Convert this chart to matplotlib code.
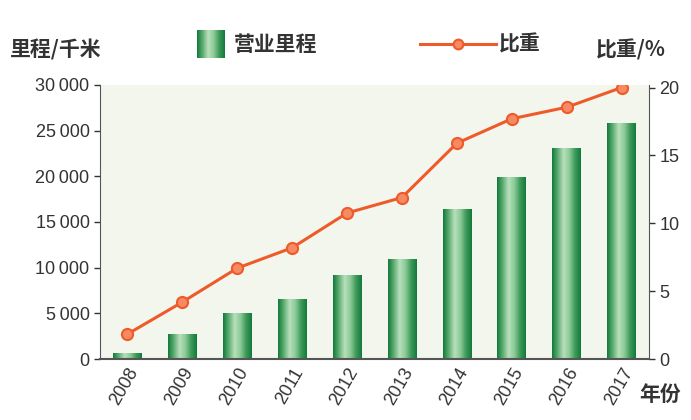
import matplotlib
matplotlib.use("Agg")
import matplotlib.pyplot as plt
import numpy as np
from matplotlib.colors import LinearSegmentedColormap
from matplotlib.lines import Line2D
from matplotlib.ticker import FuncFormatter

plt.rcParams['font.family'] = ['Liberation Sans', 'Noto Sans CJK SC', 'DejaVu Sans']

years = ['2008', '2009', '2010', '2011', '2012', '2013', '2014', '2015', '2016', '2017']
mileage = [690, 2740, 5070, 6530, 9190, 10910, 16380, 19950, 23120, 25800]
share = [1.84, 4.2, 6.7, 8.2, 10.76, 11.9, 15.9, 17.7, 18.55, 20.0]

cjk = ['Noto Sans CJK SC', 'DejaVu Sans']
text_col = '#333333'
line_col = '#ee5a2a'
bg_col = '#f3f6ec'

green = LinearSegmentedColormap.from_list(
    'bar', ['#137a3c', '#5fae72', '#b9dfbd', '#8ccb98', '#3f9a5a', '#137a3c'])
grad = np.linspace(0, 1, 64).reshape(1, -1)

fig = plt.figure(figsize=(6.91, 4.2), dpi=100)
ax = fig.add_axes([0.1447, 0.145, 0.7945, 0.653])
ax.set_facecolor(bg_col)
x = np.arange(len(years))

bars = ax.bar(x, mileage, width=0.52, color='none', edgecolor='none', zorder=2)
for b in bars:
    im = ax.imshow(grad, cmap=green, aspect='auto', zorder=2,
                   extent=[b.get_x(), b.get_x() + b.get_width(), 0, b.get_height()])
    im.set_clip_path(b)

ax.set_xlim(-0.5, len(years) - 0.5)
ax.set_ylim(0, 30000)
ax.set_yticks(np.arange(0, 30001, 5000))
ax.yaxis.set_major_formatter(FuncFormatter(
    lambda v, p: '{:,}'.format(int(v)).replace(',', '\u2009')))
ax.set_xticks(x)
ax.set_xticklabels(years, rotation=60, ha='right', rotation_mode='anchor')

ax2 = ax.twinx()
ax2.plot(x, share, color=line_col, lw=2.2, marker='o', ms=8,
         mfc='#f58a63', mec=line_col, mew=1.5, zorder=5)
ax2.set_ylim(0, 20.2)
ax2.set_yticks([0, 5, 10, 15, 20])

for a in (ax, ax2):
    for s in a.spines.values():
        s.set_visible(False)
    a.tick_params(colors=text_col, labelsize=13, length=4, width=1)
ax.spines['left'].set_visible(True)
ax.spines['left'].set_color('#555555')
ax.spines['bottom'].set_visible(True)
ax.spines['bottom'].set_color('#555555')
ax.spines['bottom'].set_linewidth(1.5)
ax2.spines['right'].set_visible(True)
ax2.spines['right'].set_color('#555555')
ax.tick_params(axis='x', length=0, pad=4)
for t in ax.get_yticklabels() + ax2.get_yticklabels() + ax.get_xticklabels():
    t.set_color(text_col)

# axis titles
fig.text(0.015, 0.88, '里程/千米', family=cjk, fontsize=15, color=text_col,
         weight='bold', va='center')
fig.text(0.862, 0.88, '比重/%', family=cjk, fontsize=15, color=text_col,
         weight='bold', va='center')
fig.text(0.925, 0.06, '年份', family=cjk, fontsize=15, color=text_col,
         weight='bold', va='center')

# legend
lax = fig.add_axes([0.285, 0.862, 0.04, 0.067])
lax.imshow(grad, cmap=green, aspect='auto')
lax.axis('off')
fig.text(0.338, 0.895, '营业里程', family=cjk, fontsize=15, color=text_col,
         weight='bold', va='center')
fig.add_artist(Line2D([0.608, 0.718], [0.895, 0.895], color=line_col, lw=2.2,
                      marker='o', markevery=[0], ms=0))
fig.add_artist(Line2D([0.663], [0.895], color=line_col, marker='o', ms=7,
                      mfc='#f58a63', mec=line_col, mew=1.5))
fig.text(0.722, 0.895, '比重', family=cjk, fontsize=15, color=text_col,
         weight='bold', va='center')

fig.savefig('out.png', dpi=100)
